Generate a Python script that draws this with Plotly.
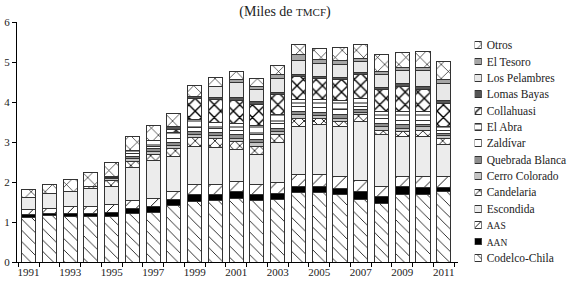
import plotly.graph_objects as go

years = list(range(1991, 2012))

series_names = ["Codelco-Chila", "AAN", "AAS", "Escondida", "Candelaria", "Cerro Colorado",
                "Quebrada Blanca", "Zaldívar", "El Abra", "Collahuasi", "Lomas Bayas",
                "Los Pelambres", "El Tesoro", "Otros"]
legend_labels = ["Codelco-Chila", "<span style='font-size:9.5px'>AAN</span>",
                 "<span style='font-size:9.5px'>AAS</span>", "Escondida", "Candelaria",
                 "Cerro Colorado", "Quebrada Blanca", "Zaldívar", "El Abra", "Collahuasi",
                 "Lomas Bayas", "Los Pelambres", "El Tesoro", "Otros"]

codelco = [1.12, 1.16, 1.13, 1.13, 1.15, 1.22, 1.23, 1.41, 1.52, 1.53, 1.59, 1.53, 1.57, 1.73, 1.73, 1.70, 1.57, 1.47, 1.70, 1.70, 1.76]
aan = [0.07, 0.06, 0.08, 0.08, 0.08, 0.11, 0.15, 0.16, 0.16, 0.15, 0.17, 0.16, 0.15, 0.15, 0.15, 0.14, 0.19, 0.16, 0.18, 0.17, 0.11]
aas = [0.13, 0.13, 0.19, 0.18, 0.20, 0.22, 0.20, 0.20, 0.26, 0.26, 0.25, 0.25, 0.26, 0.32, 0.30, 0.29, 0.29, 0.25, 0.25, 0.26, 0.26]
escondida = [0.30, 0.37, 0.36, 0.46, 0.46, 0.82, 0.97, 0.88, 0.94, 0.92, 0.80, 0.76, 1.00, 1.18, 1.25, 1.27, 1.46, 1.30, 1.00, 1.02, 0.82]
candelaria = [0.0, 0.0, 0.0, 0.05, 0.15, 0.15, 0.15, 0.20, 0.23, 0.24, 0.21, 0.19, 0.20, 0.21, 0.16, 0.11, 0.17, 0.12, 0.13, 0.15, 0.14]
cerro_colorado = [0.0, 0.0, 0.0, 0.0, 0.04, 0.07, 0.07, 0.07, 0.08, 0.07, 0.08, 0.09, 0.08, 0.09, 0.08, 0.09, 0.07, 0.09, 0.09, 0.08, 0.07]
quebrada_blanca = [0.0, 0.0, 0.0, 0.0, 0.03, 0.06, 0.06, 0.07, 0.07, 0.07, 0.08, 0.09, 0.08, 0.08, 0.08, 0.08, 0.06, 0.08, 0.08, 0.07, 0.06]
zaldivar = [0.0, 0.0, 0.0, 0.0, 0.02, 0.06, 0.07, 0.09, 0.11, 0.10, 0.12, 0.13, 0.13, 0.13, 0.12, 0.14, 0.09, 0.12, 0.12, 0.10, 0.08]
el_abra = [0.0, 0.0, 0.0, 0.0, 0.0, 0.09, 0.15, 0.17, 0.20, 0.14, 0.17, 0.22, 0.21, 0.17, 0.20, 0.23, 0.19, 0.17, 0.21, 0.21, 0.10]
collahuasi = [0.0, 0.0, 0.0, 0.0, 0.0, 0.0, 0.0, 0.07, 0.52, 0.58, 0.58, 0.53, 0.51, 0.57, 0.52, 0.52, 0.61, 0.56, 0.62, 0.56, 0.57]
lomas_bayas = [0.0, 0.0, 0.0, 0.0, 0.0, 0.0, 0.0, 0.06, 0.05, 0.05, 0.07, 0.06, 0.05, 0.05, 0.05, 0.05, 0.04, 0.04, 0.09, 0.06, 0.08]
los_pelambres = [0.0, 0.0, 0.0, 0.0, 0.0, 0.0, 0.0, 0.0, 0.0, 0.27, 0.37, 0.30, 0.35, 0.37, 0.33, 0.33, 0.27, 0.32, 0.31, 0.40, 0.42]
el_tesoro = [0.0, 0.0, 0.0, 0.0, 0.0, 0.0, 0.0, 0.0, 0.0, 0.0, 0.08, 0.07, 0.09, 0.13, 0.10, 0.10, 0.09, 0.09, 0.09, 0.09, 0.10]
otros = [0.19, 0.21, 0.30, 0.33, 0.36, 0.33, 0.37, 0.33, 0.28, 0.24, 0.20, 0.21, 0.24, 0.25, 0.27, 0.32, 0.34, 0.41, 0.37, 0.40, 0.44]

values = [codelco, aan, aas, escondida, candelaria, cerro_colorado, quebrada_blanca,
          zaldivar, el_abra, collahuasi, lomas_bayas, los_pelambres, el_tesoro, otros]

y_ticks = [0, 1, 2, 3, 4, 5, 6]
x_labels = [y for y in years if y % 2 == 1]

# styles: (fill colour, pattern shape, pattern size, solidity)
styles = [
    ("white", "\\", 8, 0.1),
    ("black", "", 8, 0.3),
    ("white", "/", 9, 0.1),
    ("#ececec", "", 8, 0.3),
    ("white", "x", 7, 0.22),
    ("#c4c4c4", "", 8, 0.3),
    ("#8e8e8e", "", 8, 0.3),
    ("white", "", 8, 0.3),
    ("white", "-", 6, 0.15),
    ("white", "x", 9, 0.28),
    ("#555555", "", 8, 0.3),
    ("#e8e8e8", "", 8, 0.3),
    ("#a6a6a6", "", 8, 0.3),
    ("white", "x", 10, 0.12),
]

serif = "Liberation Serif, Times New Roman, serif"
fig = go.Figure()

for i, (name, vals) in enumerate(zip(series_names, values)):
    col, shape, size, sol = styles[i]
    marker = dict(color=col, line=dict(color="#333333", width=1))
    if shape:
        marker["pattern"] = dict(shape=shape, fgcolor="black", bgcolor=col, size=size,
                                 solidity=sol, fillmode="replace")
    fig.add_trace(go.Bar(x=years, y=vals, name=name, marker=marker, width=0.68,
                         showlegend=False, xaxis="x", yaxis="y"))
    # legend swatch
    fig.add_trace(go.Bar(x=[1], y=[i], orientation="h", marker=marker, width=0.42,
                         showlegend=False, xaxis="x2", yaxis="y2", hoverinfo="skip"))

fig.update_layout(
    barmode="stack",
    width=569, height=282,
    margin=dict(l=17, r=3, t=22, b=20),
    plot_bgcolor="white", paper_bgcolor="white",
    font=dict(family=serif, size=11, color="#222"),
    title=dict(text="(Miles de <span style='font-size:11px'>TMCF</span>)",
               x=285 / 569, xanchor="center", y=0.962, yanchor="middle",
               font=dict(family=serif, size=14, color="#222")),
    xaxis=dict(domain=[0, 0.8026], range=[1990.44, 2011.67], tickvals=x_labels,
               ticktext=[str(v) for v in x_labels], ticks="", showline=True,
               linecolor="black", linewidth=1, showgrid=False, zeroline=False,
               tickfont=dict(family=serif, size=11),
               minor=dict(tickvals=[y - 0.5 for y in years] + [years[-1] + 0.5],
                          ticks="outside", ticklen=4, tickcolor="black", showgrid=False)),
    yaxis=dict(range=[0, 6], tickvals=y_ticks, ticks="outside", ticklen=4,
               tickcolor="black", showline=True, linecolor="black", linewidth=1,
               showgrid=False, zeroline=False, tickfont=dict(family=serif, size=11)),
    xaxis2=dict(domain=[0.8336, 0.8464], range=[0, 1], anchor="y2", visible=False),
    yaxis2=dict(domain=[0, 0.9375], range=[-0.25, 13.5], anchor="x2", side="right",
                tickvals=list(range(len(series_names))), ticktext=legend_labels,
                ticks="", showline=False, showgrid=False, zeroline=False,
                ticklabelstandoff=4, automargin=False,
                tickfont=dict(family=serif, size=11.5, color="#222")),
)

fig.write_html("out.html", config={"displayModeBar": False},
               post_script="document.body.style.margin='0px';document.body.style.overflow='hidden';")
